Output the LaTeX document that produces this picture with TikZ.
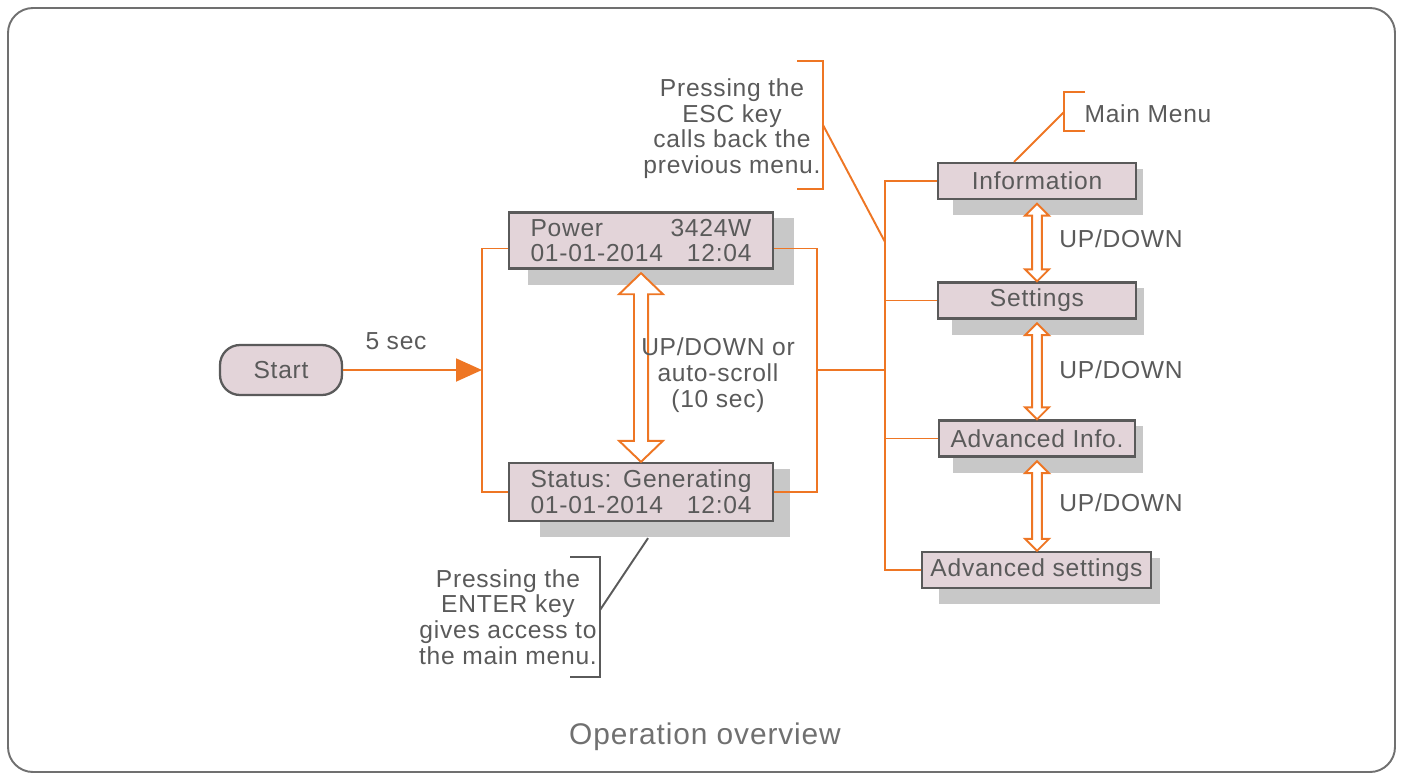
\documentclass[tikz,border=0pt]{standalone}
\usepackage{fontspec}
\setmainfont[LetterSpace=3]{Liberation Sans}
\usetikzlibrary{arrows.meta,calc,backgrounds}
\definecolor{orng}{HTML}{EE7624}
\definecolor{lcdfill}{HTML}{E3D4D9}
\definecolor{shadegray}{HTML}{C8C8C8}
\definecolor{inkgray}{HTML}{5A5A5A}
\definecolor{framegray}{HTML}{707070}
% one line of the display: left part, right part
\newcommand{\lcdrow}[2]{\makebox[4.42cm]{#1\hfill#2}}
% hollow up/down arrow: top node, bottom node, shaft half, head half, head length
\newcommand{\updown}[5]{%
  \draw[hollow] let \p1=(#1.south), \p2=(#2.north) in
    (\x1,\y1-2pt) -- (\x1+#4,\y1-2pt-#5) -- (\x1+#3,\y1-2pt-#5) -- (\x1+#3,\y2+#5) --
    (\x1+#4,\y2+#5) -- (\x1,\y2) -- (\x1-#4,\y2+#5) -- (\x1-#3,\y2+#5) --
    (\x1-#3,\y1-2pt-#5) -- (\x1-#4,\y1-2pt-#5) -- cycle;}
\begin{document}
\begin{tikzpicture}[x=0.02cm,y=-0.02cm,font=\fontsize{14}{14.6}\selectfont,text=inkgray,
  box/.style={draw=inkgray,line width=1.3pt,fill=lcdfill,inner sep=0pt},
  menu/.style={box,minimum height=0.72cm},
  link/.style={draw=orng,line width=1.1pt},
  hollow/.style={draw=orng,line width=1.1pt,fill=white,line join=miter},
  note/.style={align=center,inner sep=0pt}]
  \useasboundingbox (0,0) rectangle (1403,774);
  \draw[framegray,line width=1.1pt,rounded corners=0.5cm] (8,8) rectangle (1395,772);

  % display screens
  \node[box,rounded corners=0.4cm,minimum width=2.44cm,minimum height=1cm] (start) at (281,370) {Start};
  \node[box,minimum width=5.28cm,minimum height=1.12cm,align=center] (pw) at (641,240.5)
    {\lcdrow{Power}{3424W}\\\lcdrow{01-01-2014}{12:04}};
  \node[box,minimum width=5.28cm,minimum height=1.16cm,align=center] (st) at (641,492)
    {\lcdrow{Status:}{Generating}\\\lcdrow{01-01-2014}{12:04}};

  % main menu
  \node[menu,minimum width=3.96cm] (info) at (1037,181) {Information};
  \node[menu,minimum width=3.96cm] (sett) at (1037,300.5) {Settings};
  \node[menu,minimum width=3.92cm] (ainfo) at (1037,438.5) {Advanced Info.};
  \node[menu,minimum width=4.58cm] (aset) at (1036.5,570) {Advanced settings};

  \begin{scope}[on background layer]
    \foreach \n/\l/\r in {pw/20/20,st/32/16,info/16/6,sett/15/7,ainfo/15/7,aset/18/8}
      \fill[shadegray] ($(\n.north west)+(\l,7)$) rectangle ($(\n.south east)+(\r,15)$);
  \end{scope}

  % connectors
  \coordinate (lb) at (482,370);
  \coordinate (rb) at (817,370);
  \coordinate (tt) at (885,181);
  \coordinate (tb) at (885,570);
  \draw[link,-{Triangle[length=0.52cm,width=0.46cm]}] (start) -- (lb);
  \draw[link] ($(pw.west)+(0,8)$) -| (lb) |- (st.west);
  \draw[link] ($(pw.east)+(0,8)$) -| (rb) |- (st.east);
  \draw[link] (rb) -- (rb -| tt);
  \draw[link] (info.west) -- (tt) -- (tb) -- (aset.west);
  \draw[link] (sett.west) -- (sett.west -| tt);
  \draw[link] (ainfo.west) -- (ainfo.west -| tt);

  \updown{pw}{st}{4pt}{12.5pt}{12pt}
  \updown{info}{sett}{2.8pt}{6.8pt}{6.8pt}
  \updown{sett}{ainfo}{2.8pt}{6.8pt}{6.8pt}
  \updown{ainfo}{aset}{2.8pt}{6.8pt}{6.8pt}

  % labels
  \node[note] (five) at (396,341) {5 sec};
  \node[note] (scroll) at (718,375) {UP/DOWN or\\auto-scroll\\(10 sec)};
  \node[note] (ud1) at (1121,239) {UP/DOWN};
  \node[note] (ud2) at (1121,370) {UP/DOWN};
  \node[note] (ud3) at (1121,503) {UP/DOWN};

  % notes with brackets
  \node[note] (escnote) at (732,128.5) {Pressing the\\ESC key\\calls back the\\previous menu.};
  \draw[link] (797,61) -| (823,189) -- (797,189);
  \coordinate (escarm) at (823,125);
  \draw[link] (escarm) -- (885,242);

  \node[note] (mainnote) at (1148,114) {Main Menu};
  \draw[link] (1085,92) -| (1064,131) -- (1085,131);
  \coordinate (mainarm) at (1064,112);
  \draw[link] (mainarm) -- ($(info.north)+(-23,0)$);

  \node[note] (enternote) at (508,617) {Pressing the\\ENTER key\\gives access to\\the main menu.};
  \draw[inkgray,line width=1.1pt] (570,557) -| (600,677) -- (570,677);
  \coordinate (enterarm) at (600,610);
  \draw[inkgray,line width=1.1pt] (enterarm) -- ($(st.south)+(7,16)$);

  \node[text=framegray,font=\fontsize{17}{20}\selectfont] (title) at (705,737) {Operation overview};
\end{tikzpicture}
\end{document}
